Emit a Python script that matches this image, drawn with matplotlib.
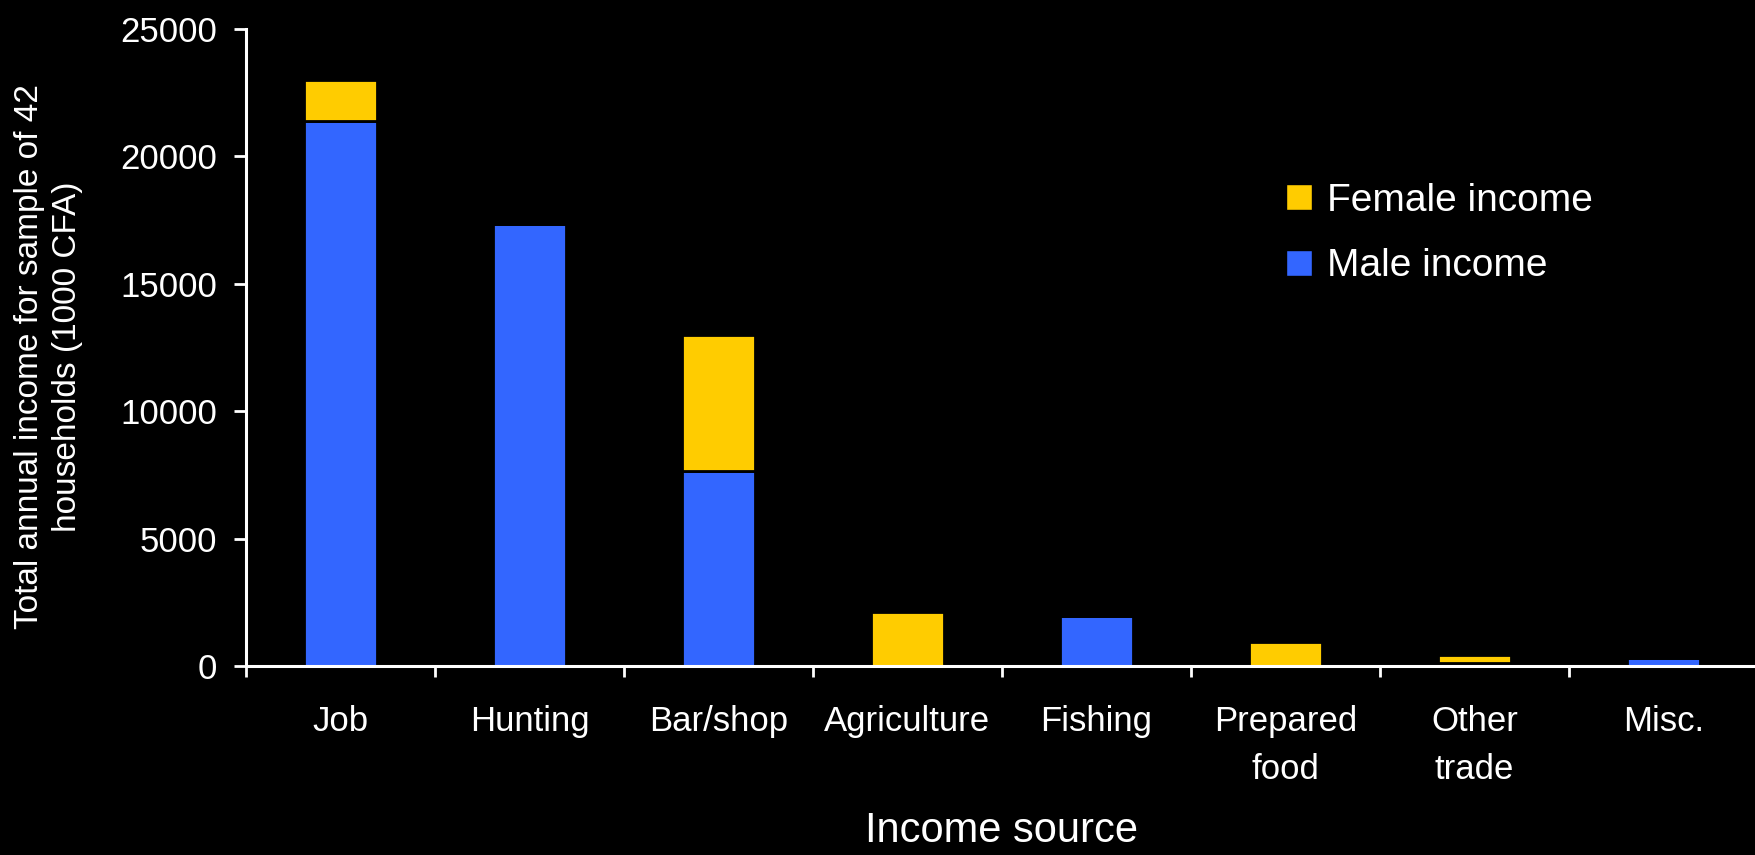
import numpy as np
import matplotlib.pyplot as plt
from matplotlib.patches import Patch

categories = ['Job', 'Hunting', 'Bar/shop', 'Agriculture', 'Fishing',
              'Prepared\nfood', 'Other\ntrade', 'Misc.']
male = [21400, 17350, 7650, 0, 1950, 0, 100, 310]
female = [1600, 0, 5350, 2100, 0, 950, 330, 0]

yticks = [0, 5000, 10000, 15000, 20000, 25000]

yellow = '#FFCC00'
blue = '#3366FF'

plt.rcParams['font.family'] = ['Liberation Sans', 'DejaVu Sans']

fig = plt.figure(figsize=(17.56, 8.55), dpi=100, facecolor='black')
ax = fig.add_axes([246 / 1756, 1 - 666 / 855, 1512 / 1756, 637 / 855])
ax.set_facecolor('black')

x = np.arange(len(categories))
ax.bar(x, male, width=0.39, color=blue, edgecolor='black', linewidth=2)
ax.bar(x, female, width=0.39, bottom=male, color=yellow,
       edgecolor='black', linewidth=2)

ax.set_xlim(-0.5, len(categories) - 0.5)
ax.set_ylim(0, 25000)

for side in ['top', 'right']:
    ax.spines[side].set_visible(False)
for side in ['left', 'bottom']:
    ax.spines[side].set_color('white')
    ax.spines[side].set_linewidth(2.2)

# ticks between categories, labels under the bars
ax.set_xticks(np.arange(-0.5, len(categories), 1))
ax.set_xticklabels([])
ax.set_xticks(x, minor=True)
ax.set_xticklabels(categories, minor=True, fontsize=25, color='white',
                   linespacing=1.6)
ax.tick_params(axis='x', which='major', direction='out', length=8,
               width=2, color='white')
ax.tick_params(axis='x', which='minor', length=0, pad=28)

ax.set_yticks(yticks)
ax.set_yticklabels([str(v) for v in yticks], fontsize=25, color='white')
ax.tick_params(axis='y', direction='out', length=9, width=2,
               color='white', pad=12)

ax.set_ylabel('Total annual income for sample of 42\nhouseholds (1000 CFA)',
              fontsize=24, color='white', linespacing=1.3)
ax.yaxis.set_label_coords(-0.108, 0.485)

ax.set_xlabel('Income source', fontsize=30, color='white', labelpad=18)

handles = [Patch(facecolor=yellow, edgecolor='black', label='Female income'),
           Patch(facecolor=blue, edgecolor='black', label='Male income')]
leg = ax.legend(handles=handles, frameon=False, fontsize=28,
                loc='upper left', bbox_to_anchor=(0.665, 0.813),
                handlelength=0.65, handleheight=0.65, handletextpad=0.4,
                labelspacing=0.75)
for t in leg.get_texts():
    t.set_color('white')

fig.savefig('out.png', dpi=100, facecolor='black')
